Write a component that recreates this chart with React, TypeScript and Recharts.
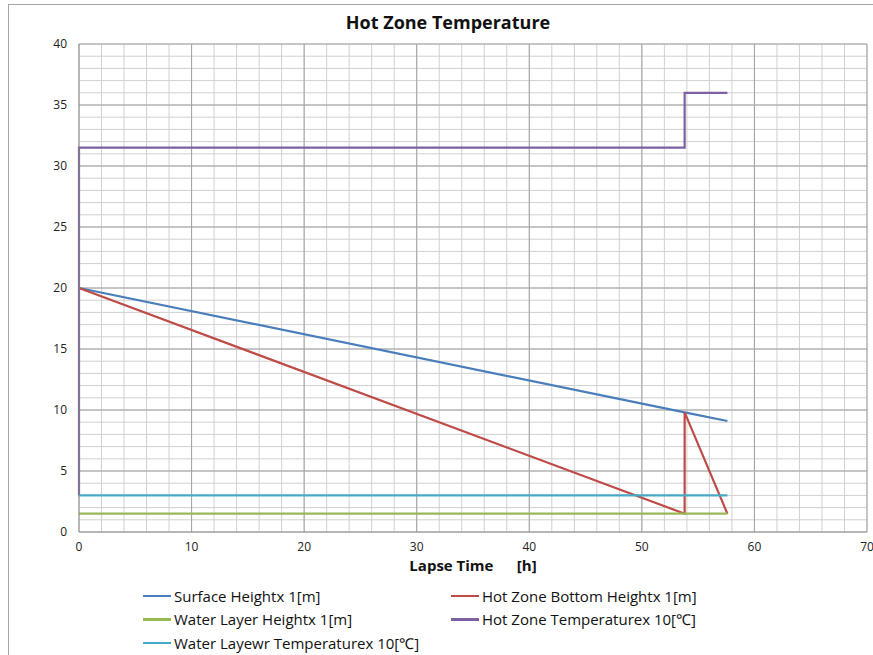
import React from "react";
import { LineChart, Line, XAxis, YAxis, CartesianGrid, ReferenceLine, Legend } from "recharts";

const surfaceX = [0, 53.8, 57.6];
const surfaceY = [20, 9.8, 9.1];

const hotBottomX = [0, 53.8, 53.8, 57.6];
const hotBottomY = [20, 1.5, 9.8, 1.5];

const waterHeightX = [0, 57.6];
const waterHeightY = [1.5, 1.5];

const hotTempX = [0, 0, 53.8, 53.8, 57.6];
const hotTempY = [3, 31.5, 31.5, 36, 36];

const waterTempX = [0, 57.6];
const waterTempY = [3, 3];

const xTicks = Array.from({ length: 36 }, (_, i) => i * 2);
const yTicks = Array.from({ length: 41 }, (_, i) => i);
const xMajor = [10, 20, 30, 40, 50, 60, 70];
const yMajor = [5, 10, 15, 20, 25, 30, 35, 40];

const toPoints = (xs: number[], ys: number[]) => xs.map((x, i) => ({ x, y: ys[i] }));

const SERIES = [
  { name: "Surface Heightx 1[m]", color: "#4A7EBB", data: toPoints(surfaceX, surfaceY) },
  { name: "Hot Zone Bottom Heightx 1[m]", color: "#BE4B48", data: toPoints(hotBottomX, hotBottomY) },
  { name: "Water Layer Heightx 1[m]", color: "#98B954", data: toPoints(waterHeightX, waterHeightY) },
  { name: "Hot Zone Temperaturex 10[℃]", color: "#7D60A0", data: toPoints(hotTempX, hotTempY) },
  { name: "Water Layewr Temperaturex 10[℃]", color: "#46AAC5", data: toPoints(waterTempX, waterTempY) },
];

const FONT = "'Open Sans', 'Liberation Sans', sans-serif";

const LegendBox = () => (
  <div
    style={{
      display: "grid",
      gridTemplateColumns: "308px 308px",
      paddingLeft: 134,
      paddingTop: 12,
      fontFamily: FONT,
      fontSize: 15,
      color: "#111",
    }}
  >
    {SERIES.map((s) => (
      <div key={s.name} style={{ display: "flex", alignItems: "center", height: 23.5, whiteSpace: "nowrap" }}>
        <span style={{ display: "inline-block", width: 28, height: 2.5, background: s.color, marginRight: 3 }} />
        <span>{s.name}</span>
      </div>
    ))}
  </div>
);

const App: React.FC = () => {
  const tickStyle = { fontSize: 12, fill: "#222", fontFamily: FONT };
  return (
    <div
      style={{
        position: "absolute",
        left: 8,
        top: 4,
        width: 865,
        height: 651,
        borderLeft: "1px solid #a6a6a6",
        borderTop: "1px solid #a6a6a6",
        background: "#fff",
      }}
    >
      <div
        style={{
          position: "absolute",
          left: 0,
          width: 878,
          top: 5,
          textAlign: "center",
          fontFamily: FONT,
          fontWeight: 700,
          fontSize: 18,
          color: "#111",
        }}
      >
        Hot Zone Temperature
      </div>
      <LineChart width={864} height={651} margin={{ top: 39, right: 6, left: 0, bottom: 0 }}>
        <CartesianGrid stroke="#d0d0d0" strokeWidth={1} />
        {xMajor.map((v) => (
          <ReferenceLine key={`x${v}`} x={v} stroke="#a3a3a3" />
        ))}
        {yMajor.map((v) => (
          <ReferenceLine key={`y${v}`} y={v} stroke="#a3a3a3" />
        ))}
        <XAxis
          type="number"
          dataKey="x"
          domain={[0, 70]}
          ticks={xTicks}
          interval={0}
          tickFormatter={(v: number) => (v % 10 === 0 ? String(v) : "")}
          tickLine={false}
          tickMargin={4}
          stroke="#868686"
          tick={tickStyle}
          height={40}
          label={{
            value: "Lapse Time\u00A0\u00A0\u00A0\u00A0\u00A0\u00A0[h]",
            position: "insideBottom",
            offset: 1,
            style: { fontFamily: FONT, fontWeight: 700, fontSize: 15, fill: "#111" },
          }}
        />
        <YAxis
          type="number"
          dataKey="y"
          domain={[0, 40]}
          ticks={yTicks}
          interval={0}
          tickFormatter={(v: number) => (v % 5 === 0 ? String(v) : "")}
          tickLine={false}
          tickMargin={6}
          stroke="#868686"
          tick={tickStyle}
          width={70}
        />
        <Legend verticalAlign="bottom" height={84} wrapperStyle={{ left: 0, width: 864 }} content={() => <LegendBox />} />
        {SERIES.map((s) => (
          <Line
            key={s.name}
            data={s.data}
            dataKey="y"
            name={s.name}
            type="linear"
            stroke={s.color}
            strokeWidth={2.2}
            dot={false}
            activeDot={false}
            isAnimationActive={false}
          />
        ))}
      </LineChart>
    </div>
  );
};

export default App;
